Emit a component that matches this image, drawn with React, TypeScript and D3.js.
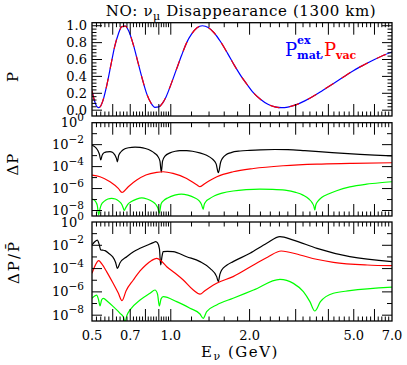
import React from 'react';
import * as d3 from 'd3';

// top panel: survival probability vs neutrino energy (GeV)
const energyP = [0.5, 0.51, 0.52, 0.53, 0.54, 0.55, 0.57, 0.59, 0.61, 0.63, 0.65, 0.67, 0.69, 0.72, 0.75, 0.78, 0.81, 0.84, 0.87, 0.9, 0.93, 0.96, 1.0, 1.05, 1.1, 1.15, 1.2, 1.26, 1.32, 1.39, 1.46, 1.55, 1.65, 1.75, 1.85, 1.95, 2.05, 2.2, 2.35, 2.5, 2.65, 2.8, 3.0, 3.25, 3.5, 3.8, 4.2, 4.6, 5.0, 5.5, 6.0, 6.5, 7.0];
const pMatEx = [0.23, 0.12, 0.05, 0.03, 0.05, 0.11, 0.3, 0.53, 0.75, 0.9, 0.99, 0.995, 0.94, 0.77, 0.56, 0.36, 0.19, 0.085, 0.034, 0.039, 0.083, 0.16, 0.3, 0.48, 0.65, 0.8, 0.9, 0.975, 1.0, 0.98, 0.92, 0.81, 0.67, 0.53, 0.41, 0.31, 0.22, 0.13, 0.07, 0.04, 0.03, 0.037, 0.062, 0.11, 0.165, 0.234, 0.32, 0.4, 0.47, 0.54, 0.6, 0.65, 0.69];
const pVac = [0.23, 0.12, 0.05, 0.03, 0.05, 0.11, 0.3, 0.53, 0.75, 0.9, 0.99, 0.995, 0.94, 0.77, 0.56, 0.36, 0.19, 0.085, 0.034, 0.039, 0.083, 0.16, 0.3, 0.48, 0.65, 0.8, 0.9, 0.975, 1.0, 0.98, 0.92, 0.81, 0.67, 0.53, 0.41, 0.31, 0.22, 0.13, 0.07, 0.04, 0.03, 0.037, 0.062, 0.11, 0.165, 0.234, 0.32, 0.4, 0.47, 0.54, 0.6, 0.65, 0.69];

// middle panel: [E, log10 dP]
const dpBlack = [[0.5, -2.05], [0.509, -2.15], [0.518, -2.3], [0.527, -2.55], [0.534, -2.9], [0.54, -3.4], [0.546, -3.0], [0.552, -2.8], [0.56, -2.7], [0.572, -2.65], [0.586, -2.63], [0.598, -2.7], [0.607, -2.85], [0.615, -3.05], [0.62, -3.25], [0.625, -3.56], [0.632, -3.0], [0.64, -2.75], [0.651, -2.55], [0.668, -2.38], [0.69, -2.28], [0.73, -2.22], [0.763, -2.25], [0.8, -2.35], [0.84, -2.55], [0.87, -2.8], [0.894, -3.1], [0.909, -3.5], [0.92, -4.5], [0.93, -3.5], [0.95, -3.05], [0.993, -2.75], [1.04, -2.6], [1.084, -2.55], [1.15, -2.55], [1.21, -2.6], [1.29, -2.75], [1.37, -2.97], [1.44, -3.3], [1.49, -3.75], [1.52, -4.56], [1.55, -3.6], [1.58, -3.2], [1.63, -2.9], [1.7, -2.72], [1.84, -2.58], [2.0, -2.52], [2.2, -2.47], [2.5, -2.44], [2.8, -2.46], [3.25, -2.55], [3.9, -2.68], [4.43, -2.77], [5.28, -2.88], [6.0, -2.95], [7.0, -3.02]];
const dpRed = [[0.5, -4.77], [0.5365, -4.92], [0.586, -5.38], [0.63, -5.98], [0.651, -6.35], [0.688, -5.83], [0.741, -5.23], [0.803, -4.77], [0.883, -4.53], [0.935, -4.47], [1.02, -4.62], [1.15, -5.08], [1.26, -5.68], [1.293, -5.83], [1.351, -5.53], [1.5, -4.92], [1.73, -4.47], [2.07, -4.17], [2.69, -3.92], [3.62, -3.77], [4.83, -3.71], [7.0, -3.65]];
const dpGreen = [[0.5, -6.95], [0.51, -7.05], [0.518, -7.25], [0.524, -7.55], [0.53, -8.4], [0.537, -7.8], [0.543, -7.45], [0.556, -7.17], [0.575, -6.95], [0.594, -6.89], [0.614, -6.95], [0.635, -7.17], [0.65, -7.45], [0.659, -7.8], [0.664, -8.0], [0.673, -7.74], [0.685, -7.44], [0.707, -7.18], [0.74, -6.96], [0.775, -6.85], [0.811, -6.95], [0.85, -7.17], [0.877, -7.45], [0.893, -7.8], [0.904, -8.25], [0.918, -7.4], [0.939, -7.1], [0.977, -6.83], [1.035, -6.6], [1.097, -6.5], [1.162, -6.6], [1.232, -6.83], [1.281, -7.1], [1.31, -7.45], [1.33, -7.89], [1.34, -7.5], [1.36, -7.2], [1.4, -6.95], [1.47, -6.65], [1.57, -6.42], [1.73, -6.22], [1.94, -6.1], [2.19, -6.05], [2.45, -6.07], [2.73, -6.15], [3.0, -6.35], [3.2, -6.6], [3.37, -6.95], [3.47, -7.3], [3.52, -7.6], [3.55, -7.95], [3.58, -7.5], [3.65, -7.15], [3.78, -6.8], [4.0, -6.5], [4.3, -6.2], [4.83, -5.85], [5.6, -5.6], [6.3, -5.47], [7.0, -5.38]];

// bottom panel: [E, log10 dP/P]
const relBlack = [[0.5, -1.97], [0.512, -1.7], [0.524, -1.55], [0.533, -1.95], [0.54, -2.4], [0.55, -2.42], [0.5606, -2.46], [0.58, -2.7], [0.6, -3.0], [0.615, -3.45], [0.625, -3.98], [0.64, -3.5], [0.6786, -2.98], [0.72, -2.55], [0.763, -2.26], [0.82, -1.95], [0.857, -1.77], [0.8755, -1.69], [0.89, -1.8], [0.905, -2.3], [0.915, -3.69], [0.925, -3.0], [0.935, -2.55], [0.97, -2.52], [1.02, -2.55], [1.15, -2.98], [1.293, -3.4], [1.412, -3.98], [1.497, -4.69], [1.519, -5.12], [1.54, -4.5], [1.565, -4.12], [1.64, -3.7], [1.73, -3.4], [2.007, -2.69], [2.325, -1.83], [2.613, -1.26], [2.94, -1.55], [3.62, -2.26], [4.83, -2.98], [7.0, -3.4]];
const relRed = [[0.5, -4.4], [0.515, -3.7], [0.53, -3.32], [0.545, -3.6], [0.57, -4.3], [0.6, -5.2], [0.63, -6.1], [0.651, -6.75], [0.675, -5.9], [0.719, -4.98], [0.763, -4.2], [0.803, -3.69], [0.845, -3.3], [0.883, -3.12], [0.92, -3.35], [0.965, -3.84], [1.04, -4.4], [1.116, -4.98], [1.219, -5.84], [1.293, -6.2], [1.35, -5.9], [1.412, -5.6], [1.497, -5.26], [1.73, -4.69], [2.07, -3.69], [2.35, -3.0], [2.64, -2.49], [3.116, -2.83], [3.6, -3.2], [4.18, -3.46], [5.63, -3.69], [7.0, -3.75]];
const relGreen = [[0.5, -6.55], [0.512, -6.35], [0.521, -6.27], [0.53, -6.7], [0.5365, -7.21], [0.544, -6.7], [0.552, -6.55], [0.575, -6.85], [0.603, -7.27], [0.64, -7.84], [0.66, -8.2], [0.6685, -8.55], [0.68, -8.0], [0.6985, -7.55], [0.763, -6.7], [0.833, -6.12], [0.87, -5.84], [0.89, -6.2], [0.904, -7.21], [0.918, -6.6], [0.935, -6.41], [1.053, -6.84], [1.184, -7.41], [1.293, -7.9], [1.33, -8.27], [1.371, -7.7], [1.497, -7.12], [1.73, -6.55], [2.07, -5.84], [2.613, -4.92], [2.94, -5.27], [3.21, -5.98], [3.4, -6.84], [3.55, -7.64], [3.73, -6.84], [4.18, -6.12], [4.83, -5.9], [7.0, -5.6]];

const xTickLabels = [0.5, 0.7, 1.0, 2.0, 5.0, 7.0];
const pTickLabels = [0, 0.2, 0.4, 0.6, 0.8, 1.0];
const logTickExps = [0, -2, -4, -6, -8];

const FONT = '"DejaVu Serif", serif';
const left = 92, right = 392;

const x = d3.scaleLog().domain([0.5, 7]).range([left, right]);

const xMajor = [0.6, 0.7, 0.8, 0.9, 1, 2, 3, 4, 5, 6];
const xMinor = [
  ...d3.range(0.52, 0.99, 0.02),
  1.2, 1.4, 1.6, 1.8,
  ...d3.range(2.2, 6.9, 0.2),
].filter(v => !xMajor.some(m => Math.abs(m - v) < 1e-6));

const panels = {
  top: { y0: 22.7, y1: 116 },
  mid: { y0: 122.7, y1: 216 },
  bot: { y0: 222, y1: 321 },
};

const yTop = d3.scaleLinear().domain([-0.069, 1.036]).range([panels.top.y1, panels.top.y0]);
const yMid = d3.scaleLog().domain([10 ** -8.5, 1]).range([panels.mid.y1, panels.mid.y0]);
const yBot = d3.scaleLog().domain([10 ** -8.5, 1]).range([panels.bot.y1, panels.bot.y0]);

function XTicks({ y0, y1 }: { y0: number; y1: number }) {
  return (
    <g stroke="#000" strokeWidth={1}>
      {xMajor.map(v => (
        <g key={'M' + v}>
          <line x1={x(v)} x2={x(v)} y1={y1} y2={y1 - 12} />
          <line x1={x(v)} x2={x(v)} y1={y0} y2={y0 + 12} />
        </g>
      ))}
      {xMinor.map(v => (
        <g key={'m' + v}>
          <line x1={x(v)} x2={x(v)} y1={y1} y2={y1 - 4.5} />
          <line x1={x(v)} x2={x(v)} y1={y0} y2={y0 + 4.5} />
        </g>
      ))}
    </g>
  );
}

function YTicks({ ys }: { ys: { y: number; len: number }[] }) {
  return (
    <g stroke="#000" strokeWidth={1}>
      {ys.map((t, i) => (
        <g key={i}>
          <line x1={left} x2={left + t.len} y1={t.y} y2={t.y} />
          <line x1={right} x2={right - t.len} y1={t.y} y2={t.y} />
        </g>
      ))}
    </g>
  );
}

function LogLabels({ y }: { y: d3.ScaleLogarithmic<number, number> }) {
  return (
    <g fontFamily={FONT} fontSize={13} textAnchor="end">
      {logTickExps.map(e => (
        <text key={e} x={84} y={y(10 ** e) + 4.5}>
          10<tspan dy={-6.5} fontSize={10.5}>{e === 0 ? '0' : '\u2212' + Math.abs(e)}</tspan>
        </text>
      ))}
    </g>
  );
}

export default function App() {
  const lineTop = d3.line<number>()
    .x((_, i) => x(energyP[i]))
    .y(d => yTop(d))
    .curve(d3.curveMonotoneX);
  const lineMid = d3.line<number[]>()
    .x(d => x(d[0]))
    .y(d => yMid(10 ** d[1]))
    .curve(d3.curveMonotoneX);
  const lineBot = d3.line<number[]>()
    .x(d => x(d[0]))
    .y(d => yBot(10 ** d[1]))
    .curve(d3.curveMonotoneX);

  const topYT = d3.range(0, 1.0001, 0.04).map(v => ({
    y: yTop(v),
    len: Math.round(v * 100) % 20 === 0 ? 10 : 4.5,
  }));
  const logYT = (s: d3.ScaleLogarithmic<number, number>) =>
    d3.range(-1, -9, -1).map(e => ({ y: s(10 ** e), len: e % 2 === 0 ? 10 : 5 }));

  return (
    <svg width={407} height={365} style={{ position: 'absolute', left: 0, top: 0, background: '#fff' }}>
      <defs>
        {Object.entries(panels).map(([k, p]) => (
          <clipPath id={'clip-' + k} key={k}>
            <rect x={left} y={p.y0} width={right - left} height={p.y1 - p.y0} />
          </clipPath>
        ))}
      </defs>

      <text x={241} y={16} fontFamily={FONT} fontSize={15} letterSpacing={0.6} textAnchor="middle">
        NO: {'\u03bd'}<tspan dy={4} fontSize={11}>{'\u03bc'}</tspan><tspan dy={-4}> Disappearance (1300 km)</tspan>
      </text>

      {/* top panel */}
      <g clipPath="url(#clip-top)" fill="none" strokeWidth={1.2}>
        <path d={lineTop(pMatEx) || ''} stroke="#0000ff" />
        <path d={lineTop(pVac) || ''} stroke="#ff0000" strokeDasharray="10 10" />
      </g>
      <XTicks {...panels.top} />
      <YTicks ys={topYT} />
      <g fontFamily={FONT} fontSize={13} textAnchor="end">
        {pTickLabels.map(v => (
          <text key={v} x={87} y={yTop(v) + 4.5}>{v.toFixed(1)}</text>
        ))}
      </g>
      <g fontFamily={FONT}>
        <text x={285} y={56} fontSize={18} fill="#0000ff">P</text>
        <text x={297} y={44} fontSize={11} fontWeight="bold" fill="#0000ff">ex</text>
        <text x={297} y={59} fontSize={11} fontWeight="bold" fill="#0000ff">mat</text>
        <text x={320} y={57} fontSize={12} fill="#0000ff">,</text>
        <text x={324} y={56} fontSize={18} fill="#ff0000">P</text>
        <text x={336} y={59} fontSize={11} fontWeight="bold" fill="#ff0000">vac</text>
      </g>

      {/* middle panel */}
      <g clipPath="url(#clip-mid)" fill="none" strokeWidth={1.2}>
        <path d={lineMid(dpBlack) || ''} stroke="#000" />
        <path d={lineMid(dpRed) || ''} stroke="#ff0000" />
        <path d={lineMid(dpGreen) || ''} stroke="#00ff00" />
      </g>
      <XTicks {...panels.mid} />
      <YTicks ys={logYT(yMid)} />
      <LogLabels y={yMid} />

      {/* bottom panel */}
      <g clipPath="url(#clip-bot)" fill="none" strokeWidth={1.2}>
        <path d={lineBot(relBlack) || ''} stroke="#000" />
        <path d={lineBot(relRed) || ''} stroke="#ff0000" />
        <path d={lineBot(relGreen) || ''} stroke="#00ff00" />
      </g>
      <XTicks {...panels.bot} />
      <YTicks ys={logYT(yBot)} />
      <LogLabels y={yBot} />

      {Object.entries(panels).map(([k, p]) => (
        <rect key={k} x={left} y={p.y0} width={right - left} height={p.y1 - p.y0} fill="none" stroke="#000" strokeWidth={1.3} />
      ))}

      <g fontFamily={FONT} fontSize={13} textAnchor="middle">
        {xTickLabels.map(v => (
          <text key={v} x={x(v)} y={340}>{v.toFixed(1)}</text>
        ))}
      </g>

      <text x={240} y={357} fontFamily={FONT} fontSize={15} letterSpacing={1.5} textAnchor="middle">
        E<tspan dy={3} fontSize={11}>{'\u03bd'}</tspan><tspan dy={-3}> (GeV)</tspan>
      </text>

      <g fontFamily={FONT} fontSize={15} textAnchor="middle">
        <text transform="translate(18,77) rotate(-90)">P</text>
        <text transform="translate(18,164) rotate(-90)" letterSpacing={1}>{'\u0394P'}</text>
        <text transform="translate(19,262) rotate(-90)" letterSpacing={2}>{'\u0394P/P\u0304'}</text>
      </g>
    </svg>
  );
}
